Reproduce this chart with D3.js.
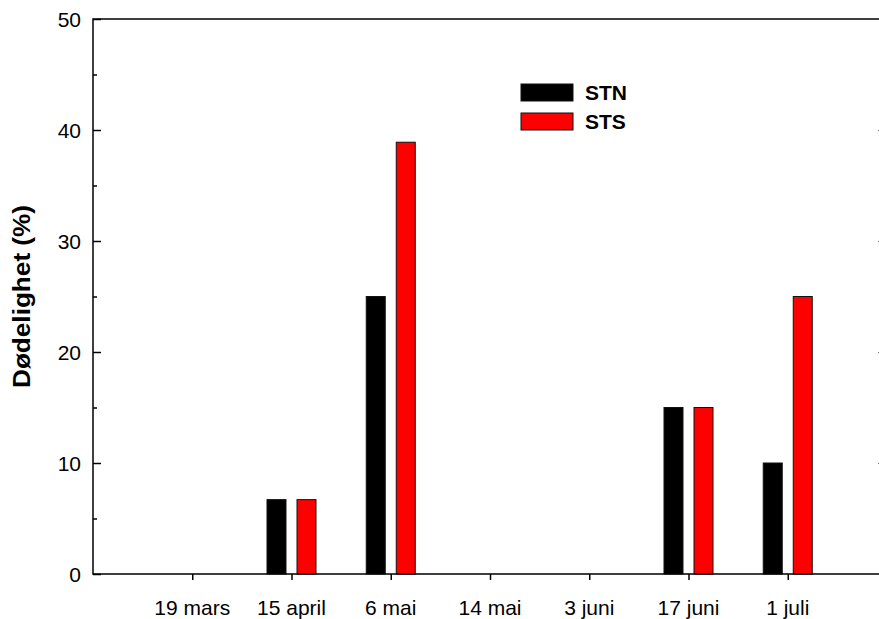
<html>
<head>
<meta http-equiv="Content-Type" content="text/html;charset=UTF-8">
<title>Dødelighet</title>
<style type="text/css">
    *{margin: 0;padding: 0;}
    body{background: #fff;overflow: hidden;}
    svg{display: block;}
    text{font-family: Arial, "Liberation Sans", sans-serif;fill: #000;}
</style>
</head>
<body>
<div class="container"></div>
<script type="text/javascript" src="https://cdn.jsdelivr.net/npm/d3@7/dist/d3.min.js"></script>
<script>
    var categories = ["19 mars", "15 april", "6 mai", "14 mai", "3 juni", "17 juni", "1 juli"];
    var series = ["STN", "STS"];
    var stn = [0, 6.7, 25, 0, 0, 15, 10];
    var sts = [0, 6.7, 38.9, 0, 0, 15, 25];
    var yTicks = [0, 10, 20, 30, 40, 50];
    var colors = ["#000000", "#ff0000"];

    var width = 879, height = 619;
    // note: "top" is window.top, so use other names
    var plotLeft = 93, plotRight = 887, plotTop = 19, plotBottom = 574;

    var svg = d3.select(".container").append("svg")
        .attr("width", width)
        .attr("height", height);

    // x: one point per date, half a step free at both ends
    var x = d3.scalePoint().domain(categories).range([plotLeft, plotRight]).padding(1);
    var inner = d3.scaleBand().domain(series).range([-24.5, 24.5]).paddingInner(0.367);
    var y = d3.scaleLinear().domain([0, 50]).range([plotBottom, plotTop]);

    // bars
    var rows = [];
    categories.forEach(function (c, i) {
        rows.push({cat: c, s: "STN", v: stn[i]});
        rows.push({cat: c, s: "STS", v: sts[i]});
    });

    svg.append("g").selectAll("rect")
        .data(rows.filter(function (d) { return d.v > 0; }))
        .enter()
        .append("rect")
        .attr("x", function (d) { return x(d.cat) + inner(d.s); })
        .attr("y", function (d) { return y(d.v); })
        .attr("width", inner.bandwidth())
        .attr("height", function (d) { return y(0) - y(d.v); })
        .attr("fill", function (d) { return colors[series.indexOf(d.s)]; })
        .attr("stroke", "#111")
        .attr("stroke-width", 1);

    // frame: left, top, bottom (right side is past the page edge)
    svg.append("path")
        .attr("d", d3.line()([[plotRight, plotTop], [plotLeft, plotTop], [plotLeft, plotBottom], [plotRight, plotBottom]]))
        .attr("fill", "none").attr("stroke", "#000").attr("stroke-width", 1.5);

    // left axis, ticks inside
    var yAxis = d3.axisRight(y).tickValues(yTicks).tickSize(8).tickFormat("");
    svg.append("g").attr("transform", "translate(" + plotLeft + ",0)").call(yAxis)
        .call(function (g) { g.select(".domain").remove(); })
        .selectAll("line").attr("stroke-width", 1.5);
    var yMinor = d3.axisRight(y).tickValues([5, 15, 25, 35, 45]).tickSize(4).tickFormat("");
    svg.append("g").attr("transform", "translate(" + plotLeft + ",0)").call(yMinor)
        .call(function (g) { g.select(".domain").remove(); })
        .selectAll("line").attr("stroke-width", 1.5);

    // right mirror ticks, only their tips reach the page
    var yRight = d3.axisLeft(y).tickValues(yTicks.slice(1, 5)).tickSize(9).tickFormat("");
    svg.append("g").attr("transform", "translate(" + plotRight + ",0)").call(yRight)
        .call(function (g) { g.select(".domain").remove(); })
        .selectAll("line").attr("stroke", "#777").attr("stroke-width", 1);

    // y labels
    svg.append("g").selectAll("text")
        .data(yTicks)
        .enter()
        .append("text")
        .attr("x", 81)
        .attr("y", function (d) { return y(d); })
        .attr("dy", "0.36em")
        .attr("text-anchor", "end")
        .style("font-size", "21px")
        .text(function (d) { return d; });

    // bottom axis, ticks outside
    var xAxis = d3.axisBottom(x).tickSize(6).tickFormat("");
    svg.append("g").attr("transform", "translate(0," + plotBottom + ")").call(xAxis)
        .call(function (g) { g.select(".domain").remove(); })
        .selectAll("line").attr("stroke-width", 1.5);

    svg.append("g").selectAll("text")
        .data(categories)
        .enter()
        .append("text")
        .attr("x", function (d) { return x(d); })
        .attr("y", 615)
        .attr("text-anchor", "middle")
        .style("font-size", "21px")
        .text(function (d) { return d; });

    // y title
    svg.append("text")
        .attr("transform", "translate(30," + (plotTop + plotBottom) / 2 + ") rotate(-90)")
        .attr("text-anchor", "middle")
        .attr("textLength", 183)
        .attr("lengthAdjust", "spacingAndGlyphs")
        .style("font-size", "23px")
        .style("font-weight", "bold")
        .text("Dødelighet (%)");

    // legend
    var legend = svg.append("g").selectAll("g")
        .data(series)
        .enter()
        .append("g")
        .attr("transform", function (d, i) { return "translate(521," + (84 + i * 29) + ")"; });
    legend.append("rect")
        .attr("width", 52).attr("height", 17)
        .attr("fill", function (d, i) { return colors[i]; })
        .attr("stroke", "#111").attr("stroke-width", 1);
    legend.append("text")
        .attr("x", 64).attr("y", 8.5).attr("dy", "0.36em")
        .style("font-size", "21px").style("font-weight", "bold")
        .text(function (d) { return d; });
</script>
</body>
</html>
